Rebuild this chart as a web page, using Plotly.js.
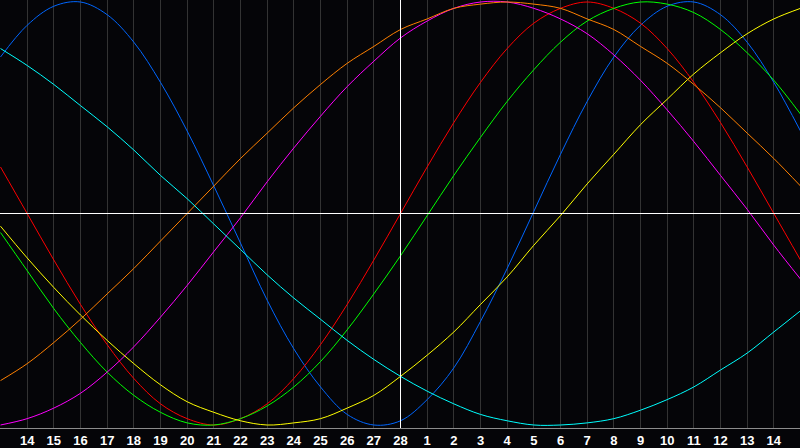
<!DOCTYPE html>
<html>
<head>
<meta charset="utf-8">
<script src="https://cdn.plot.ly/plotly-3.0.1.min.js"></script>
<style>
  html, body { margin: 0; padding: 0; background: #050508; }
  #chart { width: 800px; height: 448px; }
</style>
</head>
<body>
<div id="chart"></div>
<script>
  // one point per day, index 0 = the 13th ... index 30 = the 15th
  var dayIndex = [0, 1, 2, 3, 4, 5, 6, 7, 8, 9, 10, 11, 12, 13, 14, 15,
    16, 17, 18, 19, 20, 21, 22, 23, 24, 25, 26, 27, 28, 29, 30];

  var tickIndex = [1, 2, 3, 4, 5, 6, 7, 8, 9, 10, 11, 12, 13, 14, 15,
    16, 17, 18, 19, 20, 21, 22, 23, 24, 25, 26, 27, 28, 29];
  var tickLabels = ['14', '15', '16', '17', '18', '19', '20', '21', '22', '23', '24', '25', '26', '27', '28',
    '1', '2', '3', '4', '5', '6', '7', '8', '9', '10', '11', '12', '13', '14'];

  var todayIndex = 15;

  var blueVals = [0.74, 0.89, 0.98, 1.00, 0.94, 0.81, 0.62, 0.39, 0.13, -0.14, -0.41, -0.64, -0.82, -0.95, -1.00, -0.98,
    -0.88, -0.73, -0.51, -0.26, 0.01, 0.28, 0.53, 0.74, 0.89, 0.98, 1.00, 0.94, 0.81, 0.62, 0.39];
  var redVals = [0.22, 0.00, -0.22, -0.43, -0.62, -0.78, -0.90, -0.97, -1.00, -0.97, -0.90, -0.78, -0.62, -0.43, -0.22, 0.00,
    0.22, 0.43, 0.62, 0.78, 0.90, 0.97, 1.00, 0.97, 0.90, 0.78, 0.62, 0.43, 0.22, 0.00, -0.22];
  var greenVals = [-0.09, -0.27, -0.45, -0.61, -0.75, -0.86, -0.94, -0.99, -1.00, -0.97, -0.91, -0.82, -0.70, -0.55, -0.38, -0.20,
    -0.01, 0.18, 0.36, 0.53, 0.68, 0.81, 0.91, 0.97, 1.00, 0.99, 0.95, 0.87, 0.76, 0.63, 0.47];
  var magentaVals = [-1.00, -0.97, -0.92, -0.85, -0.75, -0.63, -0.49, -0.34, -0.18, -0.02, 0.15, 0.31, 0.46, 0.60, 0.72, 0.83,
    0.91, 0.97, 1.00, 1.00, 0.97, 0.92, 0.85, 0.75, 0.63, 0.49, 0.34, 0.18, 0.02, -0.15, -0.31];
  var yellowVals = [-0.06, -0.21, -0.35, -0.48, -0.60, -0.71, -0.81, -0.89, -0.94, -0.98, -1.00, -0.99, -0.97, -0.92, -0.86, -0.77,
    -0.67, -0.56, -0.43, -0.30, -0.15, -0.01, 0.14, 0.28, 0.42, 0.54, 0.66, 0.76, 0.85, 0.92, 0.97];
  var orangeVals = [-0.79, -0.71, -0.61, -0.50, -0.38, -0.26, -0.13, 0.00, 0.13, 0.26, 0.38, 0.50, 0.61, 0.71, 0.79, 0.87,
    0.92, 0.97, 0.99, 1.00, 0.99, 0.97, 0.92, 0.87, 0.79, 0.71, 0.61, 0.50, 0.38, 0.26, 0.13];
  var cyanVals = [0.78, 0.70, 0.61, 0.51, 0.41, 0.30, 0.18, 0.07, -0.05, -0.17, -0.29, -0.40, -0.50, -0.60, -0.69, -0.77,
    -0.84, -0.90, -0.95, -0.98, -1.00, -1.00, -0.99, -0.97, -0.93, -0.88, -0.82, -0.74, -0.66, -0.56, -0.46];

  var series = [blueVals, redVals, greenVals, magentaVals, yellowVals, orangeVals, cyanVals];
  var colors = ['#0066ff', '#ff0000', '#00ff00', '#ff00ff', '#ffff00', '#ff8000', '#00ffff'];

  var data = [];
  for (var i = 0; i < series.length; i++) {
    data.push({
      x: dayIndex,
      y: series[i],
      type: 'scatter',
      mode: 'lines',
      line: { color: colors[i], width: 1, shape: 'spline', smoothing: 1 },
      hoverinfo: 'skip'
    });
  }

  var layout = {
    width: 800,
    height: 448,
    showlegend: false,
    paper_bgcolor: '#050508',
    plot_bgcolor: '#050508',
    margin: { l: 0, r: 0, t: 0, b: 20, pad: 0 },
    xaxis: {
      // half-pixel shift keeps the day lines crisp
      range: [-0.01875, 29.98125],
      tickvals: tickIndex,
      ticktext: tickLabels,
      ticks: '',
      showgrid: true,
      gridcolor: '#333333',
      gridwidth: 1,
      zeroline: false,
      showline: true,
      mirror: true,
      linecolor: '#8c8c8c',
      linewidth: 1,
      tickfont: { family: 'Liberation Sans', size: 13, color: '#ffffff', weight: 'bold' }
    },
    yaxis: {
      range: [-1.0142, 1.0095],
      showgrid: false,
      zeroline: false,
      showticklabels: false,
      showline: true,
      linecolor: '#8c8c8c',
      linewidth: 1
    },
    shapes: [
      {
        type: 'line', xref: 'paper', yref: 'y',
        x0: 0, x1: 1, y0: 0, y1: 0,
        line: { color: '#ffffff', width: 1 }
      },
      {
        type: 'line', xref: 'x', yref: 'paper',
        x0: todayIndex, x1: todayIndex, y0: 0, y1: 1,
        line: { color: '#ffffff', width: 1 }
      }
    ]
  };

  Plotly.newPlot('chart', data, layout, { staticPlot: true, displayModeBar: false });
</script>
</body>
</html>
